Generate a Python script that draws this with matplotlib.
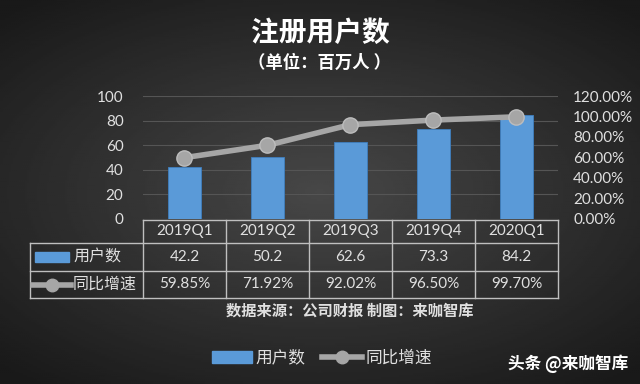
import numpy as np
import matplotlib
matplotlib.use("Agg")
import matplotlib.pyplot as plt
import matplotlib.transforms as mtransforms
from matplotlib.patches import Rectangle
from matplotlib.lines import Line2D

plt.rcParams['font.family'] = ['Noto Sans CJK SC', 'DejaVu Sans']

# data
quarters = ['2019Q1', '2019Q2', '2019Q3', '2019Q4', '2020Q1']
users = [42.2, 50.2, 62.6, 73.3, 84.2]
growth = [59.85, 71.92, 92.02, 96.50, 99.70]
growth_labels = ['59.85%', '71.92%', '92.02%', '96.50%', '99.70%']
left_ticks = [0, 20, 40, 60, 80, 100]
right_ticks = [0, 20, 40, 60, 80, 100, 120]

bar_color = '#5a9ad8'
line_color = '#a6a6a6'
text_color = '#e0e0e0'
grid_color = '#555555'
num_font = ['Lato', 'DejaVu Sans']

fig = plt.figure(figsize=(6.4, 3.84), dpi=100)

# dark radial background
bg = fig.add_axes([0, 0, 1, 1], zorder=-10)
yy, xx = np.mgrid[-1:1:200j, -1:1:320j]
r = np.sqrt((xx * 0.9) ** 2 + (yy * 1.0) ** 2)
bg.imshow(0.28 - 0.14 * np.clip(r, 0, 1.3), cmap='gray', vmin=0, vmax=1,
          aspect='auto', extent=[0, 1, 0, 1])
bg.axis('off')

ax = fig.add_axes([0.2234, 0.4297, 0.6484, 0.3203])
ax.set_facecolor('none')
x = np.arange(len(quarters))
ax.bar(x, users, width=0.4, color=bar_color, edgecolor='#3f7fbf', linewidth=0.6, zorder=2)
ax.set_xlim(-0.5, len(quarters) - 0.5)
ax.set_ylim(0, 100)
ax.set_yticks(left_ticks)
ax.set_yticklabels([str(t) for t in left_ticks], family=num_font, fontsize=11, color=text_color)
ax.set_xticks([])
ax.tick_params(axis='y', length=0, pad=14)
ax.grid(axis='y', color=grid_color, linewidth=0.8, zorder=0)
for s in ax.spines.values():
    s.set_visible(False)

ax2 = ax.twinx()
ax2.plot(x, growth, color=line_color, linewidth=4, marker='o', markersize=11,
         markerfacecolor=line_color, markeredgecolor='#bdbdbd', zorder=3)
ax2.set_ylim(0, 120)
ax2.set_yticks(right_ticks)
ax2.set_yticklabels(['%.2f%%' % t for t in right_ticks], family=num_font, fontsize=11, color=text_color)
ax2.tick_params(axis='y', length=0, pad=11)
for s in ax2.spines.values():
    s.set_visible(False)

# data table under the axes: x in data units, y in figure fraction
tr = mtransforms.blended_transform_factory(ax.transData, fig.transFigure)
row_y = [1 - 220 / 384, 1 - 243 / 384, 1 - 271 / 384, 1 - 298 / 384]
left_edge = -0.5 - 113 * len(quarters) / 415
tbl_kw = dict(color='#bfbfbf', linewidth=1, transform=tr, clip_on=False)

# horizontal lines
fig.add_artist(Line2D([-0.5, 4.5], [row_y[0]] * 2, **tbl_kw))
for yv in row_y[1:]:
    fig.add_artist(Line2D([left_edge, 4.5], [yv] * 2, **tbl_kw))
# vertical lines
for xv in np.arange(-0.5, 5.0, 1.0):
    fig.add_artist(Line2D([xv, xv], [row_y[0], row_y[3]], **tbl_kw))
fig.add_artist(Line2D([left_edge, left_edge], [row_y[1], row_y[3]], **tbl_kw))

mid = [(row_y[i] + row_y[i + 1]) / 2 for i in range(3)]
for i, q in enumerate(quarters):
    fig.text(i, mid[0], q, transform=tr, ha='center', va='center',
             family=num_font, fontsize=11, color=text_color)
    fig.text(i, mid[1], '%.1f' % users[i], transform=tr, ha='center', va='center',
             family=num_font, fontsize=11, color=text_color)
    fig.text(i, mid[2], growth_labels[i], transform=tr, ha='center', va='center',
             family=num_font, fontsize=11, color=text_color)

# row labels with legend keys
fig.add_artist(Rectangle((35 / 640, mid[1] - 0.012), 34 / 640, 0.024,
                         transform=fig.transFigure, color=bar_color))
fig.text(73 / 640, mid[1], '用户数', fontsize=11.5, color=text_color, va='center')
fig.add_artist(Line2D([33 / 640, 71 / 640], [mid[2]] * 2, color=line_color, linewidth=4,
                      transform=fig.transFigure))
fig.add_artist(Line2D([52 / 640], [mid[2]], color=line_color, marker='o', markersize=9,
                      transform=fig.transFigure))
fig.text(73 / 640, mid[2], '同比增速', fontsize=11.5, color=text_color, va='center')

# titles and notes
fig.text(0.5, 1 - 33 / 384, '注册用户数', ha='center', va='center', fontsize=20,
         fontweight='bold', color='white')
fig.text(0.5, 1 - 63 / 384, '（单位：百万人 ）', ha='center', va='center', fontsize=12.5,
         fontweight='bold', color='white')
fig.text(350 / 640, 1 - 311 / 384, '数据来源：公司财报 制图：来咖智库', ha='center', va='center',
         fontsize=11, fontweight='bold', color=text_color)

# bottom legend
handles = [Rectangle((0, 0), 1, 1, color=bar_color),
           Line2D([], [], color=line_color, linewidth=4, marker='o', markersize=9)]
leg = fig.legend(handles, ['用户数', '同比增速'], loc='center', bbox_to_anchor=(322 / 640, 1 - 358 / 384),
                 ncol=2, frameon=False, fontsize=12, handlelength=2.4, handletextpad=0.2,
                 columnspacing=1.0, labelcolor=text_color)

# watermark
fig.text(628 / 640, 1 - 364 / 384, '头条 @来咖智库', ha='right', va='center', fontsize=12,
         fontweight='bold', color='white')

fig.savefig('out.png', dpi=100)
